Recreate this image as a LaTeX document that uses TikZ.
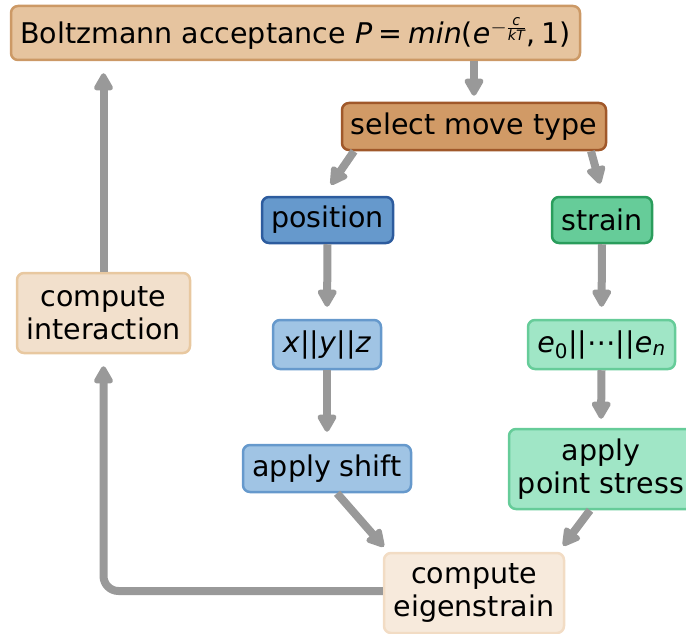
\documentclass[tikz,border=0pt]{standalone}
\usepackage{amsmath}
\usepackage{fontspec}
\setmainfont{DejaVu Sans}
\usetikzlibrary{arrows.meta,calc}

\definecolor{tanfill}{HTML}{E6C49F}
\definecolor{tanline}{HTML}{CC9966}
\definecolor{brownfill}{HTML}{D19A66}
\definecolor{brownline}{HTML}{A0582A}
\definecolor{bluefill}{HTML}{6699CC}
\definecolor{blueline}{HTML}{2D5C9E}
\definecolor{greenfill}{HTML}{66CC99}
\definecolor{greenline}{HTML}{2A9D5C}
\definecolor{lbluefill}{HTML}{A0C4E4}
\definecolor{lblueline}{HTML}{6699CC}
\definecolor{lgreenfill}{HTML}{A0E6C6}
\definecolor{lgreenline}{HTML}{66CC99}
\definecolor{creamfill}{HTML}{F2E0CC}
\definecolor{creamline}{HTML}{E8C8A0}
\definecolor{palefill}{HTML}{F7EADC}
\definecolor{paleline}{HTML}{F2DCC4}
\definecolor{flowgray}{HTML}{999999}

\begin{document}
\begin{tikzpicture}[x=1pt,y=-1pt,
  box/.style={rectangle,rounded corners=7pt,line width=2.5pt,inner sep=0pt,
    align=center,font=\fontsize{28.5}{33}\selectfont},
  flow/.style={draw=flowgray,line width=8pt,
    -{Triangle[width=21pt,length=20pt,round]}}]
\useasboundingbox (0,0) rectangle (686,634);

% boxes
\node[box,fill=tanfill,draw=tanline,minimum width=569pt,minimum height=54pt]
  (boltz) at (295.5,33)
  {Boltzmann acceptance \textit{P}\hspace{6pt}=\hspace{6pt}\textit{min}(\textit{e}$^{-\frac{\text{\itshape c}}{\text{\itshape kT}}}$,\hspace{6pt}1)};
\node[box,fill=brownfill,draw=brownline,minimum width=264pt,minimum height=47pt]
  (select) at (474,126.5) {select move type};
\node[box,fill=bluefill,draw=blueline,minimum width=131pt,minimum height=46pt]
  (pos) at (327.5,220) {position};
\node[box,fill=greenfill,draw=greenline,minimum width=100pt,minimum height=46pt]
  (strain) at (602,220) {strain};
\node[box,fill=lbluefill,draw=lblueline,minimum width=108pt,minimum height=49pt]
  (xyz) at (327,344.5) {\textit{x}||\textit{y}||\textit{z}};
\node[box,fill=lgreenfill,draw=lgreenline,minimum width=147pt,minimum height=49pt]
  (evec) at (601.5,344.5) {\textit{e}\textsubscript{0}||⋯||\textit{e}\textsubscript{\textit{n}}};
\node[box,fill=lbluefill,draw=lblueline,minimum width=168pt,minimum height=47pt]
  (shift) at (327,468.5) {apply shift};
\node[box,fill=lgreenfill,draw=lgreenline,minimum width=184pt,minimum height=80pt]
  (pstress) at (601,469) {apply\\point stress};
\node[box,fill=creamfill,draw=creamline,minimum width=173pt,minimum height=80pt]
  (inter) at (103.5,313) {compute\\interaction};
\node[box,fill=palefill,draw=paleline,minimum width=180pt,minimum height=80pt]
  (eigen) at (474,593) {compute\\eigenstrain};

% connectors
\draw[flow,shorten >=6pt] (select.north |- boltz.south) -- (select.north);
\draw[flow] ($(select.south)+(-120,0)$) -- ($(pos.north)+(3.5,-11)$);
\draw[flow] ($(select.south)+(117,0)$) -- ($(strain.north)+(-2,-12)$);
\draw[flow,shorten >=12pt] (pos.south) -- (xyz.north);
\draw[flow,shorten >=12pt] (strain.south) -- (evec.north);
\draw[flow,shorten >=12pt] (xyz.south) -- (shift.north);
\draw[flow,shorten >=9pt] (evec.south) -- (pstress.north);
\draw[flow] ($(shift.south)+(10,0)$) -- ($(eigen.north west)+(1,-5)$);
\draw[flow] ($(pstress.south)+(-11,0)$) -- ($(eigen.north east)+(-2,-6)$);
\draw[flow,rounded corners=15pt,shorten >=12pt] ($(eigen.west)+(0,-2)$) -| (inter.south);
\draw[flow,shorten >=12pt] (inter.north) -- (inter.north |- boltz.south);
\end{tikzpicture}
\end{document}
